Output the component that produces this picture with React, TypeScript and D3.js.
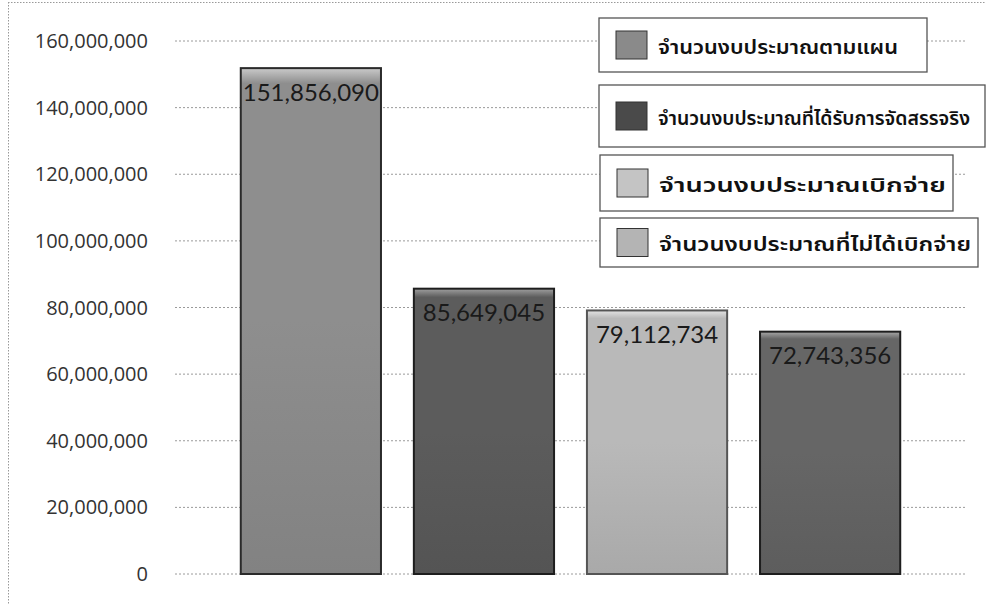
import React from "react";
import * as d3 from "d3";

const categories = [
  "จำนวนงบประมาณตามแผน",
  "จำนวนงบประมาณที่ได้รับการจัดสรรจริง",
  "จำนวนงบประมาณเบิกจ่าย",
  "จำนวนงบประมาณที่ไม่ได้เบิกจ่าย",
];
const values = [151856090, 85649045, 79112734, 72743356];
const tickValues = [0, 20000000, 40000000, 60000000, 80000000, 100000000, 120000000, 140000000, 160000000];

const barColors = ["#8e8e8e", "#5c5c5c", "#b9b9b9", "#666666"];
const barTops = ["#cacaca", "#a0a0a0", "#e4e4e4", "#a8a8a8"];
const barEdges = ["#2a2a2a", "#1e1e1e", "#555555", "#1e1e1e"];
const swatchColors = ["#8a8a8a", "#4a4a4a", "#c4c4c4", "#b4b4b4"];

const W = 986;
const H = 604;

const legendBoxes = [
  { x: 599, y: 18, w: 328, h: 54, tw: 240 },
  { x: 599, y: 85, w: 386, h: 62, tw: 312 },
  { x: 600, y: 155, w: 353, h: 56, tw: 287 },
  { x: 600, y: 218, w: 378, h: 49, tw: 312 },
];

export default function App() {
  const y = d3.scaleLinear().domain([0, 160000000]).range([574, 41]);
  const x = d3.scaleBand<string>().domain(categories).range([175, 966]).paddingInner(0.19).paddingOuter(0.38);
  const fmt = d3.format(",");

  return (
    <svg width={W} height={H} style={{ position: "fixed", left: 0, top: 0, background: "#fff" }}>
      <defs>
        {categories.map((c, i) => (
          <linearGradient key={i} id={`g${i}`} x1="0" y1="0" x2="0" y2="1">
            <stop offset="0" stopColor={barTops[i]} />
            <stop offset="0.03" stopColor={barColors[i]} />
            <stop offset="0.5" stopColor={barColors[i]} />
            <stop offset="1" stopColor={d3.color(barColors[i])!.darker(0.25).toString()} />
          </linearGradient>
        ))}
      </defs>
      {/* outer dotted border */}
      <line x1={8} x2={986} y1={2.5} y2={2.5} stroke="#999" strokeDasharray="1.5,1.5" />
      <line x1={8.5} x2={8.5} y1={2} y2={604} stroke="#999" strokeDasharray="1.5,1.5" />

      {/* gridlines */}
      {tickValues.map((t) => (
        <line key={t} x1={175} x2={966} y1={y(t)} y2={y(t)} stroke="#9a9a9a" strokeWidth={1} strokeDasharray="2,2" />
      ))}
      {/* tick labels */}
      {tickValues.map((t) => (
        <text key={"l" + t} x={148} y={y(t)} dy="0.35em" textAnchor="end" fontFamily="'Open Sans', Lato, sans-serif" fontSize={20} fill="#333">
          {fmt(t)}
        </text>
      ))}

      {/* bars */}
      {categories.map((c, i) => {
        const bx = x(c)!;
        const bw = x.bandwidth();
        const top = y(values[i]);
        const h = y(0) - top;
        return (
          <g key={c}>
            <rect x={bx} y={top} width={bw} height={h} fill={`url(#g${i})`} stroke={barEdges[i]} strokeWidth={2} />
            <text x={bx + bw / 2} y={top + 24} dy="0.35em" textAnchor="middle" fontFamily="Lato, 'Open Sans', sans-serif" fontSize={24} fill="#1a1a1a">
              {fmt(values[i])}
            </text>
          </g>
        );
      })}

      {/* legend */}
      {categories.map((c, i) => {
        const b = legendBoxes[i];
        return (
          <g key={"lg" + i}>
            <rect x={b.x} y={b.y} width={b.w} height={b.h} fill="#fff" stroke="#555" strokeWidth={1.3} />
            <rect x={b.x + 17} y={b.y + b.h / 2 - 14} width={31} height={28} fill={swatchColors[i]} stroke="#333" strokeWidth={1} />
            <text x={b.x + 59} y={b.y + b.h / 2 + 2} dy="0.35em" fontFamily="'Noto Sans Thai', Tahoma, 'Noto Sans', sans-serif" fontSize={19} fontWeight={600} fill="#111" textLength={b.tw} lengthAdjust="spacingAndGlyphs">
              {c}
            </text>
          </g>
        );
      })}
    </svg>
  );
}
